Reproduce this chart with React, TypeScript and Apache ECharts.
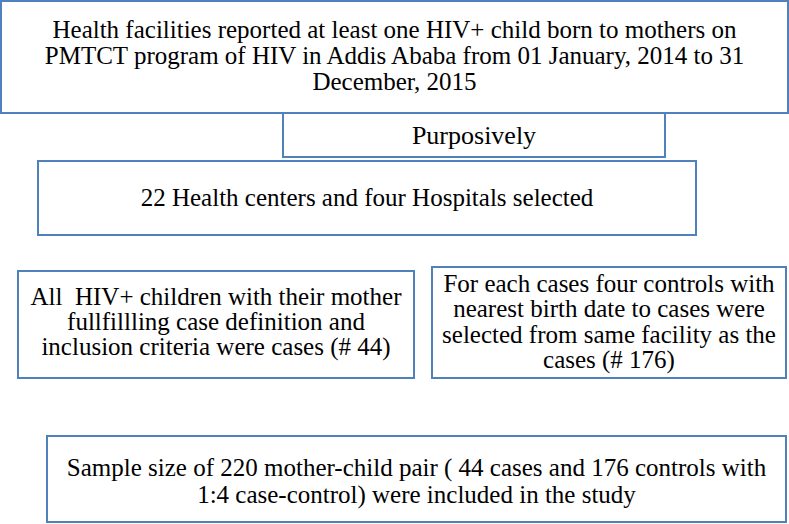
import React, { useEffect, useRef } from "react";
import * as echarts from "echarts";

// Flowchart content
const boxTitles = ["source", "method", "facilities", "cases", "controls", "sample"];
const sourceLines = [
  "Health facilities reported at least one HIV+ child born to mothers on",
  "PMTCT program of HIV in Addis Ababa from 01 January, 2014 to 31",
  "December, 2015",
];
const methodLines = ["Purposively"];
const facilityLines = ["22 Health centers and four Hospitals selected"];
const caseLines = [
  "All  HIV+ children with their mother",
  "fullfillling case definition and",
  "inclusion criteria were cases (# 44)",
];
const controlLines = [
  "For each cases four controls with",
  "nearest birth date to cases were",
  "selected from same facility as the",
  "cases (# 176)",
];
const sampleLines = [
  "Sample size of 220 mother-child pair ( 44 cases and 176 controls with",
  "1:4 case-control) were included in the study",
];

// layout (boxes: x0, y0, x1, y1, first baseline, line step, font size, scaleX)
const layout: Record<string, [number, number, number, number, number, number, number, number]> = {
  source: [1, 1, 788, 113, 36.5, 26, 25, 1],
  method: [283, 113, 665, 157, 143, 26, 26, 1],
  facilities: [38, 161, 696, 235, 204, 26, 25, 1],
  cases: [18, 271, 414, 378, 303, 25.3, 25, 1],
  controls: [432, 267, 786, 378, 290, 25.5, 25, 1],
  sample: [47, 436, 786, 522, 474, 27, 25, 1],
};
const linesByBox: Record<string, string[]> = {
  source: sourceLines,
  method: methodLines,
  facilities: facilityLines,
  cases: caseLines,
  controls: controlLines,
  sample: sampleLines,
};

const BLUE = "#4F81BD";

export default function App() {
  const ref = useRef<HTMLDivElement>(null);
  useEffect(() => {
    document.body.style.margin = "0";
    if (!ref.current) return;
    const chart = echarts.init(ref.current, null, { renderer: "svg" });
    const elements: any[] = [];
    const order = ["method", "facilities", "cases", "controls", "sample", "source"];
    order.forEach((k) => {
      const [x0, y0, x1, y1] = layout[k];
      elements.push({
        type: "rect",
        shape: { x: x0, y: y0, width: x1 - x0, height: y1 - y0 },
        style: { fill: k === "source" ? "rgba(0,0,0,0)" : "#fff", stroke: BLUE, lineWidth: 2 },
      });
    });
    boxTitles.forEach((k) => {
      const [x0, , x1, , base, step, size, sx] = layout[k];
      const cx = (x0 + x1) / 2;
      linesByBox[k].forEach((line, i) => {
        elements.push({
          type: "text",
          x: cx,
          y: base + i * step + size * 0.22,
          scaleX: sx,
          style: {
            text: line,
            fontSize: size,
            fontFamily: "Liberation Serif",
            fill: "#000",
            textAlign: "center",
            textVerticalAlign: "bottom",
          },
        });
      });
    });
    chart.setOption({
      animation: false,
      backgroundColor: "#fff",
      graphic: { elements },
    });
    return () => chart.dispose();
  }, []);
  return <div ref={ref} style={{ width: 789, height: 524 }} />;
}
